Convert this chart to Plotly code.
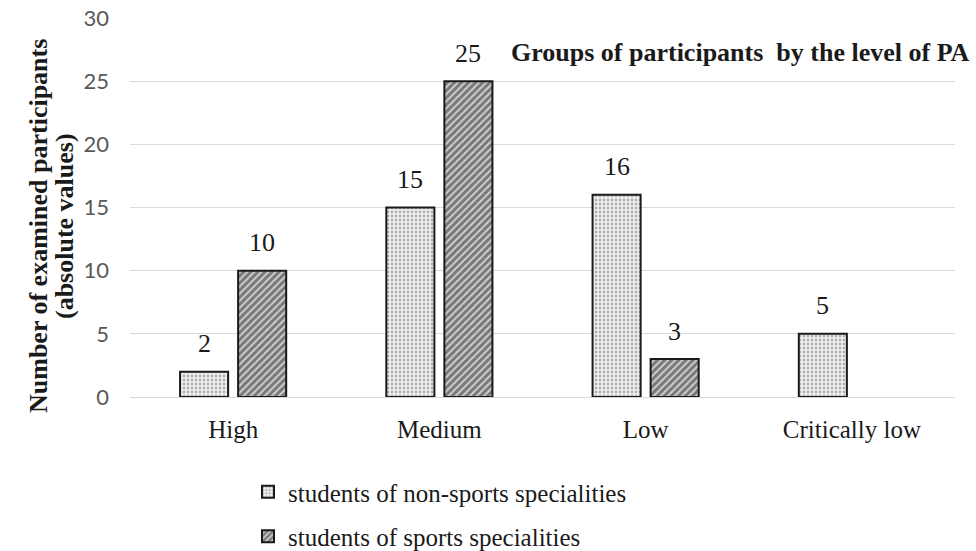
import plotly.graph_objects as go

# Levels of physical activity (PA) and participant counts per group
categories = ["High", "Medium", "Low", "Critically low"]
non_sports = [2, 15, 16, 5]
sports = [10, 25, 3, None]
series_names = ["students of non-sports specialities", "students of sports specialities"]
y_ticks = [0, 5, 10, 15, 20, 25, 30]

SERIF = "Liberation Serif, Times New Roman, serif"
INK = "#1a1a1a"

# Plot-area geometry (pixels)
W, H = 976, 551
ML, MR, MT, MB = 130, 21, 18, 154
PW, PH = W - ML - MR, H - MT - MB
BARGAP, BARGROUPGAP = 0.437, 0.172
slot = PW / len(categories) * (1 - BARGAP) / 2  # width of one bar slot in a group

fig = go.Figure()

fig.add_trace(go.Bar(
    x=categories, y=non_sports, name=series_names[0], legendgroup="a",
    marker=dict(
        color="white",
        line=dict(color=INK, width=2),
        pattern=dict(shape=".", fgcolor="#6e6e6e", bgcolor="#f2f2f2", size=4, solidity=0.4),
    ),
))

fig.add_trace(go.Bar(
    x=categories, y=sports, name=series_names[1], legendgroup="b",
    marker=dict(
        color="white",
        line=dict(color=INK, width=2),
        pattern=dict(shape="/", fgcolor="#222222", bgcolor="#cfcfcf", size=5, solidity=0.6),
    ),
))

# Value labels above each bar
annotations = []
for series, dx in ((non_sports, -slot / 2), (sports, slot / 2)):
    for cat, val in zip(categories, series):
        if val is None:
            continue
        annotations.append(dict(
            x=cat, y=val, xref="x", yref="y", text=str(val), showarrow=False,
            xshift=dx, yshift=28, xanchor="center", yanchor="middle",
            font=dict(family=SERIF, size=26, color=INK),
        ))

# Chart title in the upper right
annotations.append(dict(
    text="<b>Groups of participants  by the level of PA</b>",
    x=(972 - ML) / PW, y=(H - MB - 52) / PH, xref="paper", yref="paper", showarrow=False,
    xanchor="right", yanchor="middle",
    font=dict(family=SERIF, size=26, color=INK),
))

# Two-line vertical axis title
for text, px in (("Number of examined participants", 38), ("(absolute values)", 64)):
    annotations.append(dict(
        text=f"<b>{text}</b>", textangle=-90,
        x=(px - ML) / PW, y=(H - MB - 226) / PH, xref="paper", yref="paper",
        showarrow=False, xanchor="center", yanchor="middle",
        font=dict(family=SERIF, size=26, color=INK),
    ))

fig.update_layout(
    width=W, height=H,
    margin=dict(l=ML, r=MR, t=MT, b=MB, autoexpand=False),
    paper_bgcolor="white", plot_bgcolor="white",
    barmode="group", bargap=BARGAP, bargroupgap=BARGROUPGAP,
    showlegend=True,
    legend=dict(
        orientation="v", x=(248 - ML) / PW, y=(H - MB - 469) / PH,
        xanchor="left", yanchor="top",
        font=dict(family=SERIF, size=25, color=INK),
        itemwidth=30, traceorder="grouped", tracegroupgap=9,
    ),
    annotations=annotations,
)

fig.update_yaxes(
    range=[0, 30], tickvals=y_ticks,
    showgrid=True, gridcolor="#d9d9d9", gridwidth=1,
    zeroline=False, showline=False,
    tickfont=dict(family="Lato, Open Sans, sans-serif", size=22, color="#595959"),
    ticklabelstandoff=20,
)

fig.update_xaxes(
    showline=True, linecolor="#d9d9d9", linewidth=1,
    tickfont=dict(family=SERIF, size=25, color=INK),
    ticks="", showgrid=False, ticklabelstandoff=10,
)

fig.write_html("out.html")
